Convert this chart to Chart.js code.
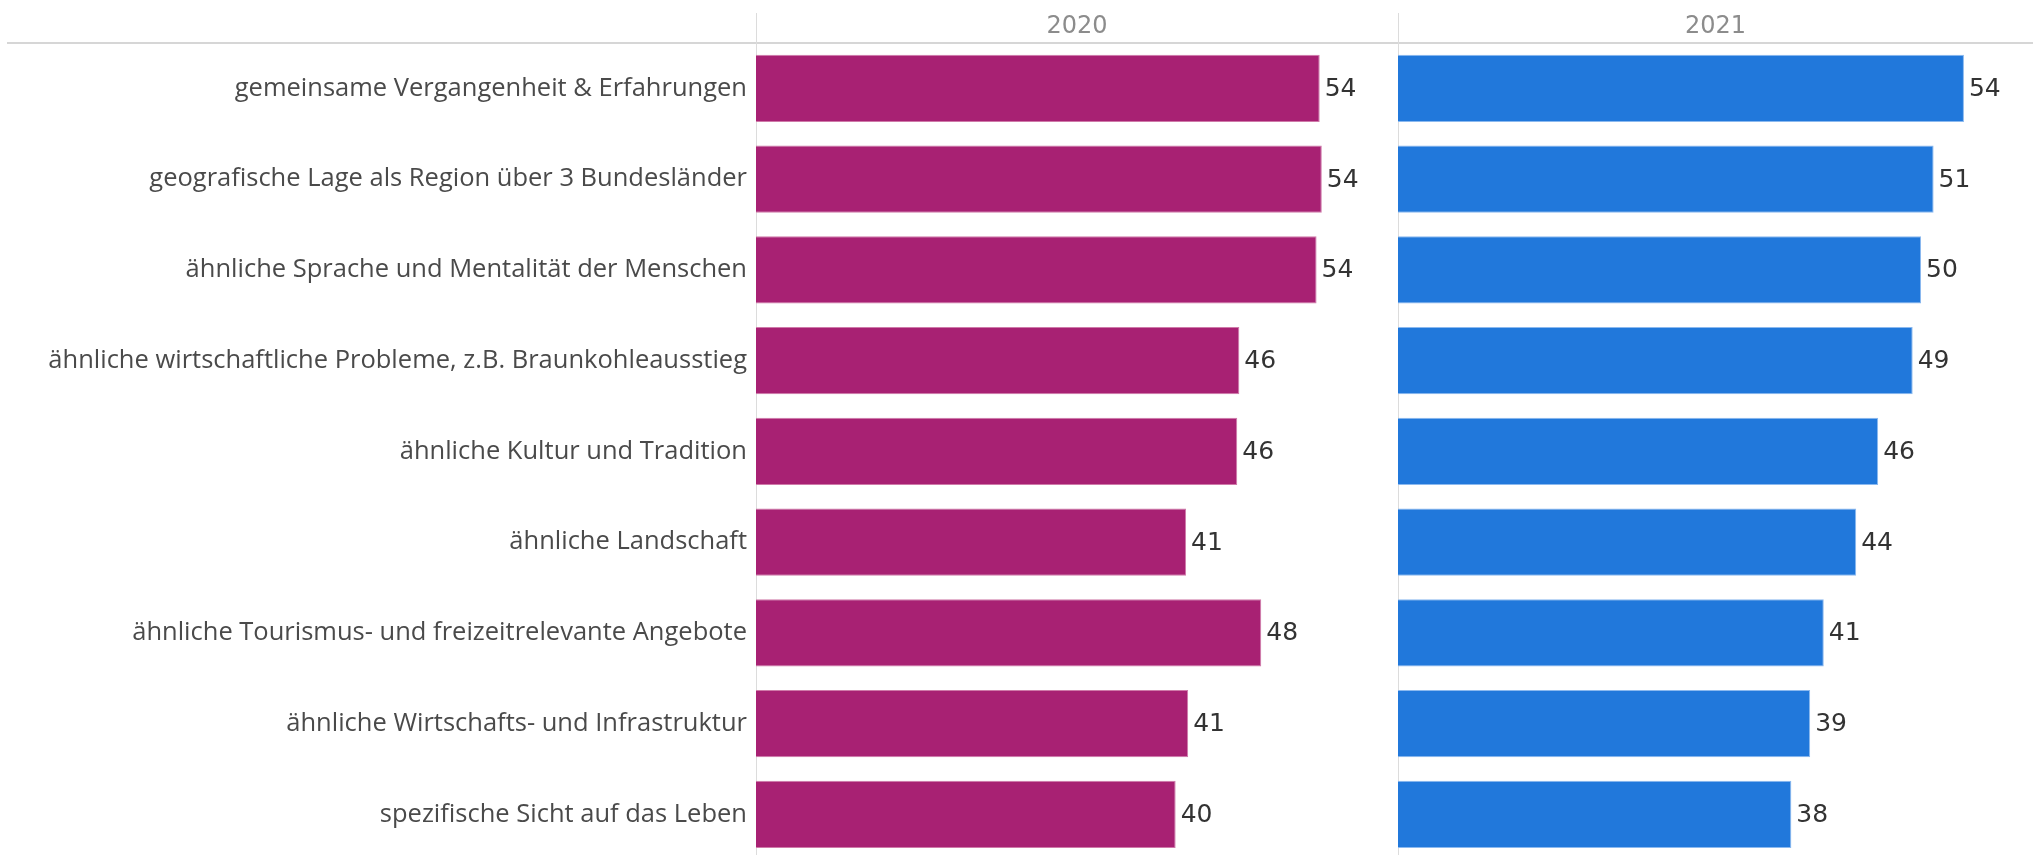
<!DOCTYPE html>
<html>
<head>
<meta charset="utf-8">
<script src="https://cdn.jsdelivr.net/npm/chart.js@4.4.1/dist/chart.umd.min.js"></script>
<style>
  html, body { margin: 0; padding: 0; background: #fff; overflow: hidden; }
  #wrap { position: relative; width: 2033px; height: 855px; overflow: hidden; }
  .box { position: absolute; top: 0; height: 884px; }
</style>
</head>
<body>
<div id="wrap">
  <div class="box" style="left:0;width:1398px"><canvas id="c2020"></canvas></div>
  <div class="box" style="left:1398px;width:635px"><canvas id="c2021"></canvas></div>
</div>
<script>
const categories = [
  'gemeinsame Vergangenheit & Erfahrungen',
  'geografische Lage als Region über 3 Bundesländer',
  'ähnliche Sprache und Mentalität der Menschen',
  'ähnliche wirtschaftliche Probleme, z.B. Braunkohleausstieg',
  'ähnliche Kultur und Tradition',
  'ähnliche Landschaft',
  'ähnliche Tourismus- und freizeitrelevante Angebote',
  'ähnliche Wirtschafts- und Infrastruktur',
  'spezifische Sicht auf das Leben'
];
const years = ['2020', '2021'];
const values2020 = [54.0, 54.2, 53.7, 46.3, 46.1, 41.2, 48.4, 41.4, 40.2];
const values2021 = [54.1, 51.2, 50.0, 49.2, 45.9, 43.8, 40.7, 39.4, 37.6];

const LABEL_FONT = '"Open Sans", sans-serif';
const NUM_FONT = '"DejaVu Sans", sans-serif';

// header line, panel divider and year title
const panelDecor = {
  id: 'panelDecor',
  beforeDraw(chart, args, opts) {
    const ctx = chart.ctx;
    const area = chart.chartArea;
    const x0 = chart.scales.x.getPixelForValue(0);
    ctx.save();
    ctx.strokeStyle = '#d6d6d6';
    ctx.lineWidth = 2;
    ctx.beginPath();
    ctx.moveTo(opts.lineStart, area.top);
    ctx.lineTo(chart.width, area.top);
    ctx.stroke();
    ctx.strokeStyle = '#dcdcdc';
    ctx.lineWidth = 1;
    ctx.beginPath();
    ctx.moveTo(Math.round(x0) + 0.5, 13);
    ctx.lineTo(Math.round(x0) + 0.5, chart.height);
    ctx.stroke();
    ctx.fillStyle = '#8c8c8c';
    ctx.font = '24px ' + NUM_FONT;
    ctx.textAlign = 'center';
    ctx.textBaseline = 'middle';
    ctx.fillText(opts.title, (area.left + area.right) / 2, 27);
    ctx.restore();
  }
};

// value labels after bar end
const valueLabels = {
  id: 'valueLabels',
  afterDatasetsDraw(chart) {
    const ctx = chart.ctx;
    ctx.save();
    ctx.fillStyle = '#333333';
    ctx.font = '25px ' + NUM_FONT;
    ctx.textAlign = 'left';
    ctx.textBaseline = 'middle';
    chart.getDatasetMeta(0).data.forEach((bar, i) => {
      const v = chart.data.datasets[0].data[i];
      ctx.fillText(Math.round(v), bar.x + 5, bar.y + 1);
    });
    ctx.restore();
  }
};

function makeChart(id, title, data, color, border, xMax, showLabels) {
  return new Chart(document.getElementById(id), {
    type: 'bar',
    data: {
      labels: categories,
      datasets: [{
        data: data,
        backgroundColor: color,
        borderColor: border,
        borderWidth: 1,
        barPercentage: 0.74,
        categoryPercentage: 1
      }]
    },
    options: {
      indexAxis: 'y',
      responsive: true,
      maintainAspectRatio: false,
      animation: false,
      layout: { padding: { top: 43, right: 0, bottom: 0, left: 0 } },
      plugins: {
        legend: { display: false },
        tooltip: { enabled: false },
        panelDecor: { title: title, lineStart: showLabels ? 7 : 0 }
      },
      scales: {
        x: {
          display: false,
          min: 0,
          max: xMax
        },
        y: {
          grid: { display: false, drawTicks: false },
          border: { display: false },
          ticks: {
            padding: 9,
            color: showLabels ? '#4a4a4a' : 'rgba(0,0,0,0)',
            font: { size: 25.5, family: LABEL_FONT }
          },
          afterFit(scale) { scale.width = showLabels ? 756 : 0; }
        }
      }
    },
    plugins: [panelDecor, valueLabels]
  });
}

makeChart('c2020', years[0], values2020, '#a82173', '#cf7aa9', 61.5, true);
makeChart('c2021', years[1], values2021, '#2178db', '#8bb9ef', 60.7, false);
</script>
</body>
</html>
